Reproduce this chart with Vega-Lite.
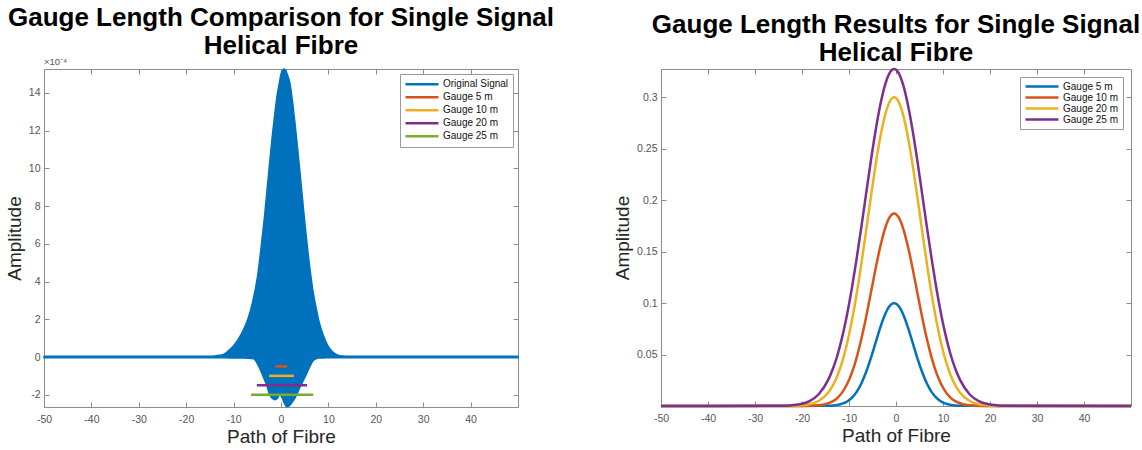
{
  "$schema": "https://vega.github.io/schema/vega-lite/v6.json",
  "background": "white",
  "padding": {"left": 5, "top": 5, "right": 5, "bottom": 5},
  "spacing": 58,
  "config": {
    "font": "Liberation Sans",
    "view": {"stroke": null},
    "axis": {
      "grid": false, "domainColor": "#8c8c8c", "domainWidth": 1, "tickColor": "#8c8c8c",
      "tickSize": -5, "labelPadding": 9, "labelColor": "#555555", "labelFontSize": 10.5,
      "labelFont": "Liberation Sans", "titleFont": "Liberation Sans", "titleFontSize": 19,
      "titleFontWeight": "normal", "titleColor": "#262626", "labelFlush": false, "labelOverlap": false
    },
    "axisBottom": {"labelPadding": 12, "titlePadding": 3},
    "legend": {
      "orient": "top-right", "offset": 5, "symbolType": "stroke", "symbolSize": 1089,
      "symbolStrokeWidth": 2.5, "clipHeight": 12, "labelFontSize": 10, "labelFont": "Liberation Sans",
      "labelColor": "#111111", "padding": 4, "strokeColor": "#9a9a9a", "fillColor": "white",
      "rowPadding": 0, "labelOffset": 3, "symbolOffset": 0
    },
    "title": {"font": "Liberation Sans", "fontSize": 26, "fontWeight": "bold", "color": "#000000", "lineHeight": 28, "anchor": "middle", "offset": -2}
  },
  "resolve": {"scale": {"stroke": "independent"}, "legend": {"stroke": "independent"}},
  "hconcat": [
    {
      "width": 474, "height": 338,
      "title": {"text": ["Gauge Length Comparison for Single Signal", "Helical Fibre"]},
      "layer": [
        {
          "data": {"values": [
            {"series": "Original Signal", "x": -50, "upper": 0.04, "lower": -0.04},
            {"series": "Original Signal", "x": -16, "upper": 0.04, "lower": -0.04},
            {"series": "Original Signal", "x": -14, "upper": 0.06, "lower": -0.04},
            {"series": "Original Signal", "x": -13, "upper": 0.09, "lower": -0.04},
            {"series": "Original Signal", "x": -12, "upper": 0.15, "lower": -0.04},
            {"series": "Original Signal", "x": -11, "upper": 0.35, "lower": -0.05},
            {"series": "Original Signal", "x": -10, "upper": 0.6, "lower": -0.05},
            {"series": "Original Signal", "x": -9, "upper": 0.95, "lower": -0.05},
            {"series": "Original Signal", "x": -8, "upper": 1.4, "lower": -0.05},
            {"series": "Original Signal", "x": -7, "upper": 2.0, "lower": -0.06},
            {"series": "Original Signal", "x": -6, "upper": 2.9, "lower": -0.08},
            {"series": "Original Signal", "x": -5.5, "upper": 3.5, "lower": -0.15},
            {"series": "Original Signal", "x": -5, "upper": 4.2, "lower": -0.35},
            {"series": "Original Signal", "x": -4.2, "upper": 5.8, "lower": -0.76},
            {"series": "Original Signal", "x": -3.5, "upper": 7.4, "lower": -1.2},
            {"series": "Original Signal", "x": -3, "upper": 8.7, "lower": -1.5},
            {"series": "Original Signal", "x": -2.4, "upper": 10.3, "lower": -2.0},
            {"series": "Original Signal", "x": -1.8, "upper": 11.8, "lower": -2.2},
            {"series": "Original Signal", "x": -1.3, "upper": 12.9, "lower": -2.26},
            {"series": "Original Signal", "x": -0.8, "upper": 13.9, "lower": -2.2},
            {"series": "Original Signal", "x": -0.3, "upper": 14.6, "lower": -2.0},
            {"series": "Original Signal", "x": 0, "upper": 15.0, "lower": -2.05},
            {"series": "Original Signal", "x": 0.3, "upper": 15.2, "lower": -2.2},
            {"series": "Original Signal", "x": 0.7, "upper": 15.27, "lower": -2.45},
            {"series": "Original Signal", "x": 1, "upper": 15.2, "lower": -2.58},
            {"series": "Original Signal", "x": 1.3, "upper": 15.0, "lower": -2.63},
            {"series": "Original Signal", "x": 1.9, "upper": 14.5, "lower": -2.55},
            {"series": "Original Signal", "x": 2.5, "upper": 13.4, "lower": -2.35},
            {"series": "Original Signal", "x": 3, "upper": 12.3, "lower": -2.15},
            {"series": "Original Signal", "x": 4, "upper": 9.8, "lower": -1.6},
            {"series": "Original Signal", "x": 5, "upper": 7.2, "lower": -1.1},
            {"series": "Original Signal", "x": 6, "upper": 4.9, "lower": -0.55},
            {"series": "Original Signal", "x": 6.75, "upper": 3.5, "lower": -0.2},
            {"series": "Original Signal", "x": 7.5, "upper": 2.5, "lower": -0.08},
            {"series": "Original Signal", "x": 8, "upper": 1.9, "lower": -0.05},
            {"series": "Original Signal", "x": 9, "upper": 1.1, "lower": -0.05},
            {"series": "Original Signal", "x": 10, "upper": 0.55, "lower": -0.04},
            {"series": "Original Signal", "x": 11, "upper": 0.25, "lower": -0.04},
            {"series": "Original Signal", "x": 12, "upper": 0.1, "lower": -0.04},
            {"series": "Original Signal", "x": 13, "upper": 0.05, "lower": -0.04},
            {"series": "Original Signal", "x": 15, "upper": 0.04, "lower": -0.04},
            {"series": "Original Signal", "x": 50, "upper": 0.04, "lower": -0.04}
          ]},
          "mark": {"type": "area", "fill": "#0072BD", "fillOpacity": 1, "strokeWidth": 1.5, "interpolate": "monotone"},
          "encoding": {
            "x": {"field": "x", "type": "quantitative", "scale": {"domain": [-50, 50], "nice": false, "zero": false},
                  "axis": {"orient": "bottom", "title": "Path of Fibre", "values": [-50, -40, -30, -20, -10, 0, 10, 20, 30, 40], "labelExpr": "'' + datum.value"}},
            "y": {"field": "upper", "type": "quantitative", "scale": {"domain": [-2.65, 15.27], "nice": false, "zero": false},
                  "axis": {"orient": "left", "title": "Amplitude", "values": [-2, 0, 2, 4, 6, 8, 10, 12, 14], "labelExpr": "'' + datum.value"}},
            "y2": {"field": "lower"},
            "stroke": {"field": "series", "type": "nominal",
                       "scale": {"domain": ["Original Signal", "Gauge 5 m", "Gauge 10 m", "Gauge 20 m", "Gauge 25 m"],
                                 "range": ["#0072BD", "#D95319", "#EDB120", "#7E2F8E", "#77AC30"]},
                       "legend": {"title": null, "clipHeight": 12.5, "offset": 5}}
          }
        },
        {
          "data": {"values": [
            {"series": "Gauge 5 m", "x1": -1.2, "x2": 1.3, "y": -0.5},
            {"series": "Gauge 10 m", "x1": -2.5, "x2": 2.7, "y": -1.0},
            {"series": "Gauge 20 m", "x1": -5.1, "x2": 5.5, "y": -1.5},
            {"series": "Gauge 25 m", "x1": -6.3, "x2": 6.8, "y": -2.0}
          ]},
          "mark": {"type": "rule", "strokeWidth": 2.5},
          "encoding": {
            "x": {"field": "x1", "type": "quantitative",
                  "axis": {"orient": "top", "title": null, "labels": false, "values": [-50, -40, -30, -20, -10, 0, 10, 20, 30, 40]}},
            "x2": {"field": "x2"},
            "y": {"field": "y", "type": "quantitative",
                  "axis": {"orient": "right", "title": null, "labels": false, "values": [-2, 0, 2, 4, 6, 8, 10, 12, 14]}},
            "stroke": {"field": "series", "type": "nominal"}
          }
        },
        {
          "data": {"values": [{"label": "×10⁻⁴", "x": -50, "y": 15.27}]},
          "mark": {"type": "text", "align": "left", "baseline": "bottom", "dy": -2, "fontSize": 9.5, "color": "#555555", "font": "Liberation Sans"},
          "encoding": {
            "x": {"field": "x", "type": "quantitative", "axis": null},
            "y": {"field": "y", "type": "quantitative", "axis": null},
            "text": {"field": "label"}
          }
        }
      ],
      "resolve": {"axis": {"x": "independent", "y": "independent"}}
    },
    {
      "width": 470, "height": 337,
      "title": {"text": ["Gauge Length Results for Single Signal", "Helical Fibre"]},
      "data": {"values": [
        {"series": "Gauge 5 m", "x": -50, "y": 0},
        {"series": "Gauge 5 m", "x": -14.4, "y": 0.0002},
        {"series": "Gauge 5 m", "x": -13.4, "y": 0.0005},
        {"series": "Gauge 5 m", "x": -12.4, "y": 0.0011},
        {"series": "Gauge 5 m", "x": -11.4, "y": 0.0023},
        {"series": "Gauge 5 m", "x": -10.4, "y": 0.0044},
        {"series": "Gauge 5 m", "x": -9.4, "y": 0.008},
        {"series": "Gauge 5 m", "x": -8.4, "y": 0.0135},
        {"series": "Gauge 5 m", "x": -7.4, "y": 0.0216},
        {"series": "Gauge 5 m", "x": -6.4, "y": 0.0325},
        {"series": "Gauge 5 m", "x": -5.4, "y": 0.0458},
        {"series": "Gauge 5 m", "x": -4.4, "y": 0.0607},
        {"series": "Gauge 5 m", "x": -3.4, "y": 0.0755},
        {"series": "Gauge 5 m", "x": -2.4, "y": 0.0882},
        {"series": "Gauge 5 m", "x": -1.4, "y": 0.0969},
        {"series": "Gauge 5 m", "x": -0.4, "y": 0.1},
        {"series": "Gauge 5 m", "x": 0.6, "y": 0.0969},
        {"series": "Gauge 5 m", "x": 1.6, "y": 0.0882},
        {"series": "Gauge 5 m", "x": 2.6, "y": 0.0755},
        {"series": "Gauge 5 m", "x": 3.6, "y": 0.0607},
        {"series": "Gauge 5 m", "x": 4.6, "y": 0.0458},
        {"series": "Gauge 5 m", "x": 5.6, "y": 0.0325},
        {"series": "Gauge 5 m", "x": 6.6, "y": 0.0216},
        {"series": "Gauge 5 m", "x": 7.6, "y": 0.0135},
        {"series": "Gauge 5 m", "x": 8.6, "y": 0.008},
        {"series": "Gauge 5 m", "x": 9.6, "y": 0.0044},
        {"series": "Gauge 5 m", "x": 10.6, "y": 0.0023},
        {"series": "Gauge 5 m", "x": 11.6, "y": 0.0011},
        {"series": "Gauge 5 m", "x": 12.6, "y": 0.0005},
        {"series": "Gauge 5 m", "x": 13.6, "y": 0.0002},
        {"series": "Gauge 5 m", "x": 50, "y": 0},

        {"series": "Gauge 10 m", "x": -50, "y": 0},
        {"series": "Gauge 10 m", "x": -20.4, "y": 0},
        {"series": "Gauge 10 m", "x": -18.4, "y": 0.0002},
        {"series": "Gauge 10 m", "x": -16.4, "y": 0.0007},
        {"series": "Gauge 10 m", "x": -14.4, "y": 0.0027},
        {"series": "Gauge 10 m", "x": -13.4, "y": 0.0048},
        {"series": "Gauge 10 m", "x": -12.4, "y": 0.0082},
        {"series": "Gauge 10 m", "x": -11.4, "y": 0.0135},
        {"series": "Gauge 10 m", "x": -10.4, "y": 0.0214},
        {"series": "Gauge 10 m", "x": -9.4, "y": 0.0322},
        {"series": "Gauge 10 m", "x": -8.4, "y": 0.0466},
        {"series": "Gauge 10 m", "x": -7.4, "y": 0.0646},
        {"series": "Gauge 10 m", "x": -6.4, "y": 0.0856},
        {"series": "Gauge 10 m", "x": -5.4, "y": 0.1087},
        {"series": "Gauge 10 m", "x": -4.4, "y": 0.1322},
        {"series": "Gauge 10 m", "x": -3.4, "y": 0.1538},
        {"series": "Gauge 10 m", "x": -2.4, "y": 0.1715},
        {"series": "Gauge 10 m", "x": -1.4, "y": 0.183},
        {"series": "Gauge 10 m", "x": -0.4, "y": 0.187},
        {"series": "Gauge 10 m", "x": 0.6, "y": 0.183},
        {"series": "Gauge 10 m", "x": 1.6, "y": 0.1715},
        {"series": "Gauge 10 m", "x": 2.6, "y": 0.1538},
        {"series": "Gauge 10 m", "x": 3.6, "y": 0.1322},
        {"series": "Gauge 10 m", "x": 4.6, "y": 0.1087},
        {"series": "Gauge 10 m", "x": 5.6, "y": 0.0856},
        {"series": "Gauge 10 m", "x": 6.6, "y": 0.0646},
        {"series": "Gauge 10 m", "x": 7.6, "y": 0.0466},
        {"series": "Gauge 10 m", "x": 8.6, "y": 0.0322},
        {"series": "Gauge 10 m", "x": 9.6, "y": 0.0214},
        {"series": "Gauge 10 m", "x": 10.6, "y": 0.0135},
        {"series": "Gauge 10 m", "x": 11.6, "y": 0.0082},
        {"series": "Gauge 10 m", "x": 12.6, "y": 0.0048},
        {"series": "Gauge 10 m", "x": 13.6, "y": 0.0027},
        {"series": "Gauge 10 m", "x": 15.6, "y": 0.0007},
        {"series": "Gauge 10 m", "x": 17.6, "y": 0.0002},
        {"series": "Gauge 10 m", "x": 19.6, "y": 0},
        {"series": "Gauge 10 m", "x": 50, "y": 0},

        {"series": "Gauge 20 m", "x": -50, "y": 0},
        {"series": "Gauge 20 m", "x": -22.4, "y": 0.0001},
        {"series": "Gauge 20 m", "x": -20.4, "y": 0.0005},
        {"series": "Gauge 20 m", "x": -18.4, "y": 0.0017},
        {"series": "Gauge 20 m", "x": -16.4, "y": 0.0051},
        {"series": "Gauge 20 m", "x": -14.4, "y": 0.0132},
        {"series": "Gauge 20 m", "x": -13.4, "y": 0.0203},
        {"series": "Gauge 20 m", "x": -12.4, "y": 0.0302},
        {"series": "Gauge 20 m", "x": -11.4, "y": 0.0436},
        {"series": "Gauge 20 m", "x": -10.4, "y": 0.0609},
        {"series": "Gauge 20 m", "x": -9.4, "y": 0.0825},
        {"series": "Gauge 20 m", "x": -8.4, "y": 0.1081},
        {"series": "Gauge 20 m", "x": -7.4, "y": 0.1373},
        {"series": "Gauge 20 m", "x": -6.4, "y": 0.169},
        {"series": "Gauge 20 m", "x": -5.4, "y": 0.2014},
        {"series": "Gauge 20 m", "x": -4.4, "y": 0.2324},
        {"series": "Gauge 20 m", "x": -3.4, "y": 0.2599},
        {"series": "Gauge 20 m", "x": -2.4, "y": 0.2815},
        {"series": "Gauge 20 m", "x": -1.4, "y": 0.2953},
        {"series": "Gauge 20 m", "x": -0.4, "y": 0.3},
        {"series": "Gauge 20 m", "x": 0.6, "y": 0.2953},
        {"series": "Gauge 20 m", "x": 1.6, "y": 0.2815},
        {"series": "Gauge 20 m", "x": 2.6, "y": 0.2599},
        {"series": "Gauge 20 m", "x": 3.6, "y": 0.2324},
        {"series": "Gauge 20 m", "x": 4.6, "y": 0.2014},
        {"series": "Gauge 20 m", "x": 5.6, "y": 0.169},
        {"series": "Gauge 20 m", "x": 6.6, "y": 0.1373},
        {"series": "Gauge 20 m", "x": 7.6, "y": 0.1081},
        {"series": "Gauge 20 m", "x": 8.6, "y": 0.0825},
        {"series": "Gauge 20 m", "x": 9.6, "y": 0.0609},
        {"series": "Gauge 20 m", "x": 10.6, "y": 0.0436},
        {"series": "Gauge 20 m", "x": 11.6, "y": 0.0302},
        {"series": "Gauge 20 m", "x": 12.6, "y": 0.0203},
        {"series": "Gauge 20 m", "x": 13.6, "y": 0.0132},
        {"series": "Gauge 20 m", "x": 15.6, "y": 0.0051},
        {"series": "Gauge 20 m", "x": 17.6, "y": 0.0017},
        {"series": "Gauge 20 m", "x": 19.6, "y": 0.0005},
        {"series": "Gauge 20 m", "x": 21.6, "y": 0.0001},
        {"series": "Gauge 20 m", "x": 50, "y": 0},

        {"series": "Gauge 25 m", "x": -50, "y": 0},
        {"series": "Gauge 25 m", "x": -24.4, "y": 0.0002},
        {"series": "Gauge 25 m", "x": -22.4, "y": 0.0006},
        {"series": "Gauge 25 m", "x": -20.4, "y": 0.0018},
        {"series": "Gauge 25 m", "x": -18.4, "y": 0.0048},
        {"series": "Gauge 25 m", "x": -16.4, "y": 0.0117},
        {"series": "Gauge 25 m", "x": -14.4, "y": 0.0256},
        {"series": "Gauge 25 m", "x": -13.4, "y": 0.0364},
        {"series": "Gauge 25 m", "x": -12.4, "y": 0.0503},
        {"series": "Gauge 25 m", "x": -11.4, "y": 0.0679},
        {"series": "Gauge 25 m", "x": -10.4, "y": 0.0892},
        {"series": "Gauge 25 m", "x": -9.4, "y": 0.1142},
        {"series": "Gauge 25 m", "x": -8.4, "y": 0.1425},
        {"series": "Gauge 25 m", "x": -7.4, "y": 0.1731},
        {"series": "Gauge 25 m", "x": -6.4, "y": 0.205},
        {"series": "Gauge 25 m", "x": -5.4, "y": 0.2366},
        {"series": "Gauge 25 m", "x": -4.4, "y": 0.266},
        {"series": "Gauge 25 m", "x": -3.4, "y": 0.2913},
        {"series": "Gauge 25 m", "x": -2.4, "y": 0.3109},
        {"series": "Gauge 25 m", "x": -1.4, "y": 0.3233},
        {"series": "Gauge 25 m", "x": -0.4, "y": 0.3275},
        {"series": "Gauge 25 m", "x": 0.6, "y": 0.3233},
        {"series": "Gauge 25 m", "x": 1.6, "y": 0.3109},
        {"series": "Gauge 25 m", "x": 2.6, "y": 0.2913},
        {"series": "Gauge 25 m", "x": 3.6, "y": 0.266},
        {"series": "Gauge 25 m", "x": 4.6, "y": 0.2366},
        {"series": "Gauge 25 m", "x": 5.6, "y": 0.205},
        {"series": "Gauge 25 m", "x": 6.6, "y": 0.1731},
        {"series": "Gauge 25 m", "x": 7.6, "y": 0.1425},
        {"series": "Gauge 25 m", "x": 8.6, "y": 0.1142},
        {"series": "Gauge 25 m", "x": 9.6, "y": 0.0892},
        {"series": "Gauge 25 m", "x": 10.6, "y": 0.0679},
        {"series": "Gauge 25 m", "x": 11.6, "y": 0.0503},
        {"series": "Gauge 25 m", "x": 12.6, "y": 0.0364},
        {"series": "Gauge 25 m", "x": 13.6, "y": 0.0256},
        {"series": "Gauge 25 m", "x": 15.6, "y": 0.0117},
        {"series": "Gauge 25 m", "x": 17.6, "y": 0.0048},
        {"series": "Gauge 25 m", "x": 19.6, "y": 0.0018},
        {"series": "Gauge 25 m", "x": 21.6, "y": 0.0006},
        {"series": "Gauge 25 m", "x": 23.6, "y": 0.0002},
        {"series": "Gauge 25 m", "x": 50, "y": 0}
      ]},
      "layer": [
        {
          "mark": {"type": "line", "strokeWidth": 2.5, "interpolate": "monotone"},
          "encoding": {
            "x": {"field": "x", "type": "quantitative", "scale": {"domain": [-50, 50], "nice": false, "zero": false},
                  "axis": {"orient": "bottom", "title": "Path of Fibre", "values": [-50, -40, -30, -20, -10, 0, 10, 20, 30, 40], "labelExpr": "'' + datum.value"}},
            "y": {"field": "y", "type": "quantitative", "scale": {"domain": [0, 0.3275], "nice": false, "zero": false},
                  "axis": {"orient": "left", "title": "Amplitude", "values": [0.05, 0.1, 0.15, 0.2, 0.25, 0.3], "labelExpr": "'' + datum.value"}},
            "stroke": {"field": "series", "type": "nominal",
                       "scale": {"domain": ["Gauge 5 m", "Gauge 10 m", "Gauge 20 m", "Gauge 25 m"],
                                 "range": ["#0072BD", "#D95319", "#EDB120", "#7E2F8E"]},
                       "legend": {"title": null, "clipHeight": 11, "offset": 8}}
          }
        },
        {
          "mark": {"type": "line", "strokeOpacity": 0},
          "encoding": {
            "x": {"field": "x", "type": "quantitative",
                  "axis": {"orient": "top", "title": null, "labels": false, "values": [-50, -40, -30, -20, -10, 0, 10, 20, 30, 40]}},
            "y": {"field": "y", "type": "quantitative",
                  "axis": {"orient": "right", "title": null, "labels": false, "values": [0.05, 0.1, 0.15, 0.2, 0.25, 0.3]}},
            "detail": {"field": "series"}
          }
        }
      ],
      "resolve": {"axis": {"x": "independent", "y": "independent"}}
    }
  ]
}
